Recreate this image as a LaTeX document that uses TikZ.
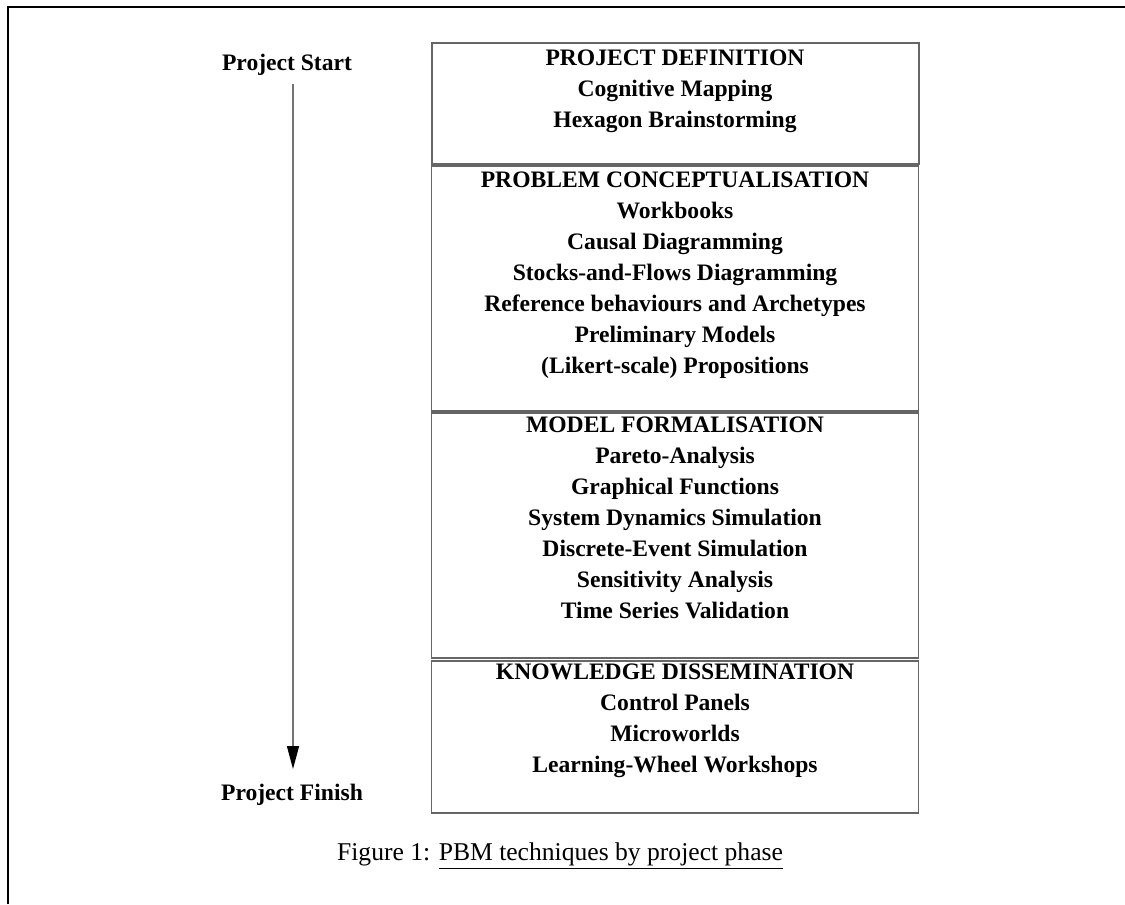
\documentclass[tikz,border=0pt]{standalone}
\usepackage{fontspec}
\setmainfont{Liberation Serif}
\usetikzlibrary{arrows.meta}

\begin{document}
\begin{tikzpicture}[
    x=0.5bp, y=-0.5bp,
    phase/.style={rectangle, draw=black!60, line width=0.7bp, minimum width=243.5bp, inner sep=0pt},
    items/.style={anchor=north, align=center, inner sep=0pt, font=\fontsize{11.8bp}{15.5bp}\selectfont\bfseries},
    tag/.style={anchor=base, inner sep=0pt, font=\fontsize{11.8bp}{15.5bp}\selectfont\bfseries},
    flow/.style={draw=black!55, line width=0.7bp, -{Triangle[width=6bp, length=11.5bp, black]}}
  ]
    \useasboundingbox (0,0) rectangle (1125,904);
    % frame
    \draw[line width=1bp] (8,904) -- (8,7) -- (1125,7);

    % phases
    \node[phase, minimum height=60.5bp] (def) at (675.5,103.5) {};
    \node[phase, minimum height=122.5bp] (con) at (675,288.5) {};
    \node[phase, minimum height=122.5bp] (frm) at (675,535.5) {};
    \node[phase, minimum height=76bp] (dis) at (675,737) {};

    \node[items] (tdef) at (675,49) {PROJECT DEFINITION\\ Cognitive Mapping\\ Hexagon Brainstorming};
    \node[items] (tcon) at (675,171) {PROBLEM CONCEPTUALISATION\\ Workbooks\\ Causal Diagramming\\
      Stocks-and-Flows Diagramming\\ Reference behaviours and Archetypes\\ Preliminary Models\\
      (Likert-scale) Propositions};
    \node[items] (tfrm) at (675,416) {MODEL FORMALISATION\\ Pareto-Analysis\\ Graphical Functions\\
      System Dynamics Simulation\\ Discrete-Event Simulation\\ Sensitivity Analysis\\ Time Series Validation};
    \node[items] (tdis) at (675,663) {KNOWLEDGE DISSEMINATION\\ Control Panels\\ Microworlds\\
      Learning-Wheel Workshops};

    % time axis
    \node[tag] (start) at (287,70) {Project Start};
    \node[tag] (finish) at (292,800) {Project Finish};
    \coordinate (a0) at (293,84);
    \coordinate (a1) at (293,769);
    \draw[flow] (a0) -- (a1);

    % caption
    \node[anchor=base, inner sep=0pt, font=\fontsize{12.8bp}{15.5bp}\selectfont] (cap) at (560,860)
      {Figure 1: \underline{PBM techniques by project phase}};
  \end{tikzpicture}
\end{document}
